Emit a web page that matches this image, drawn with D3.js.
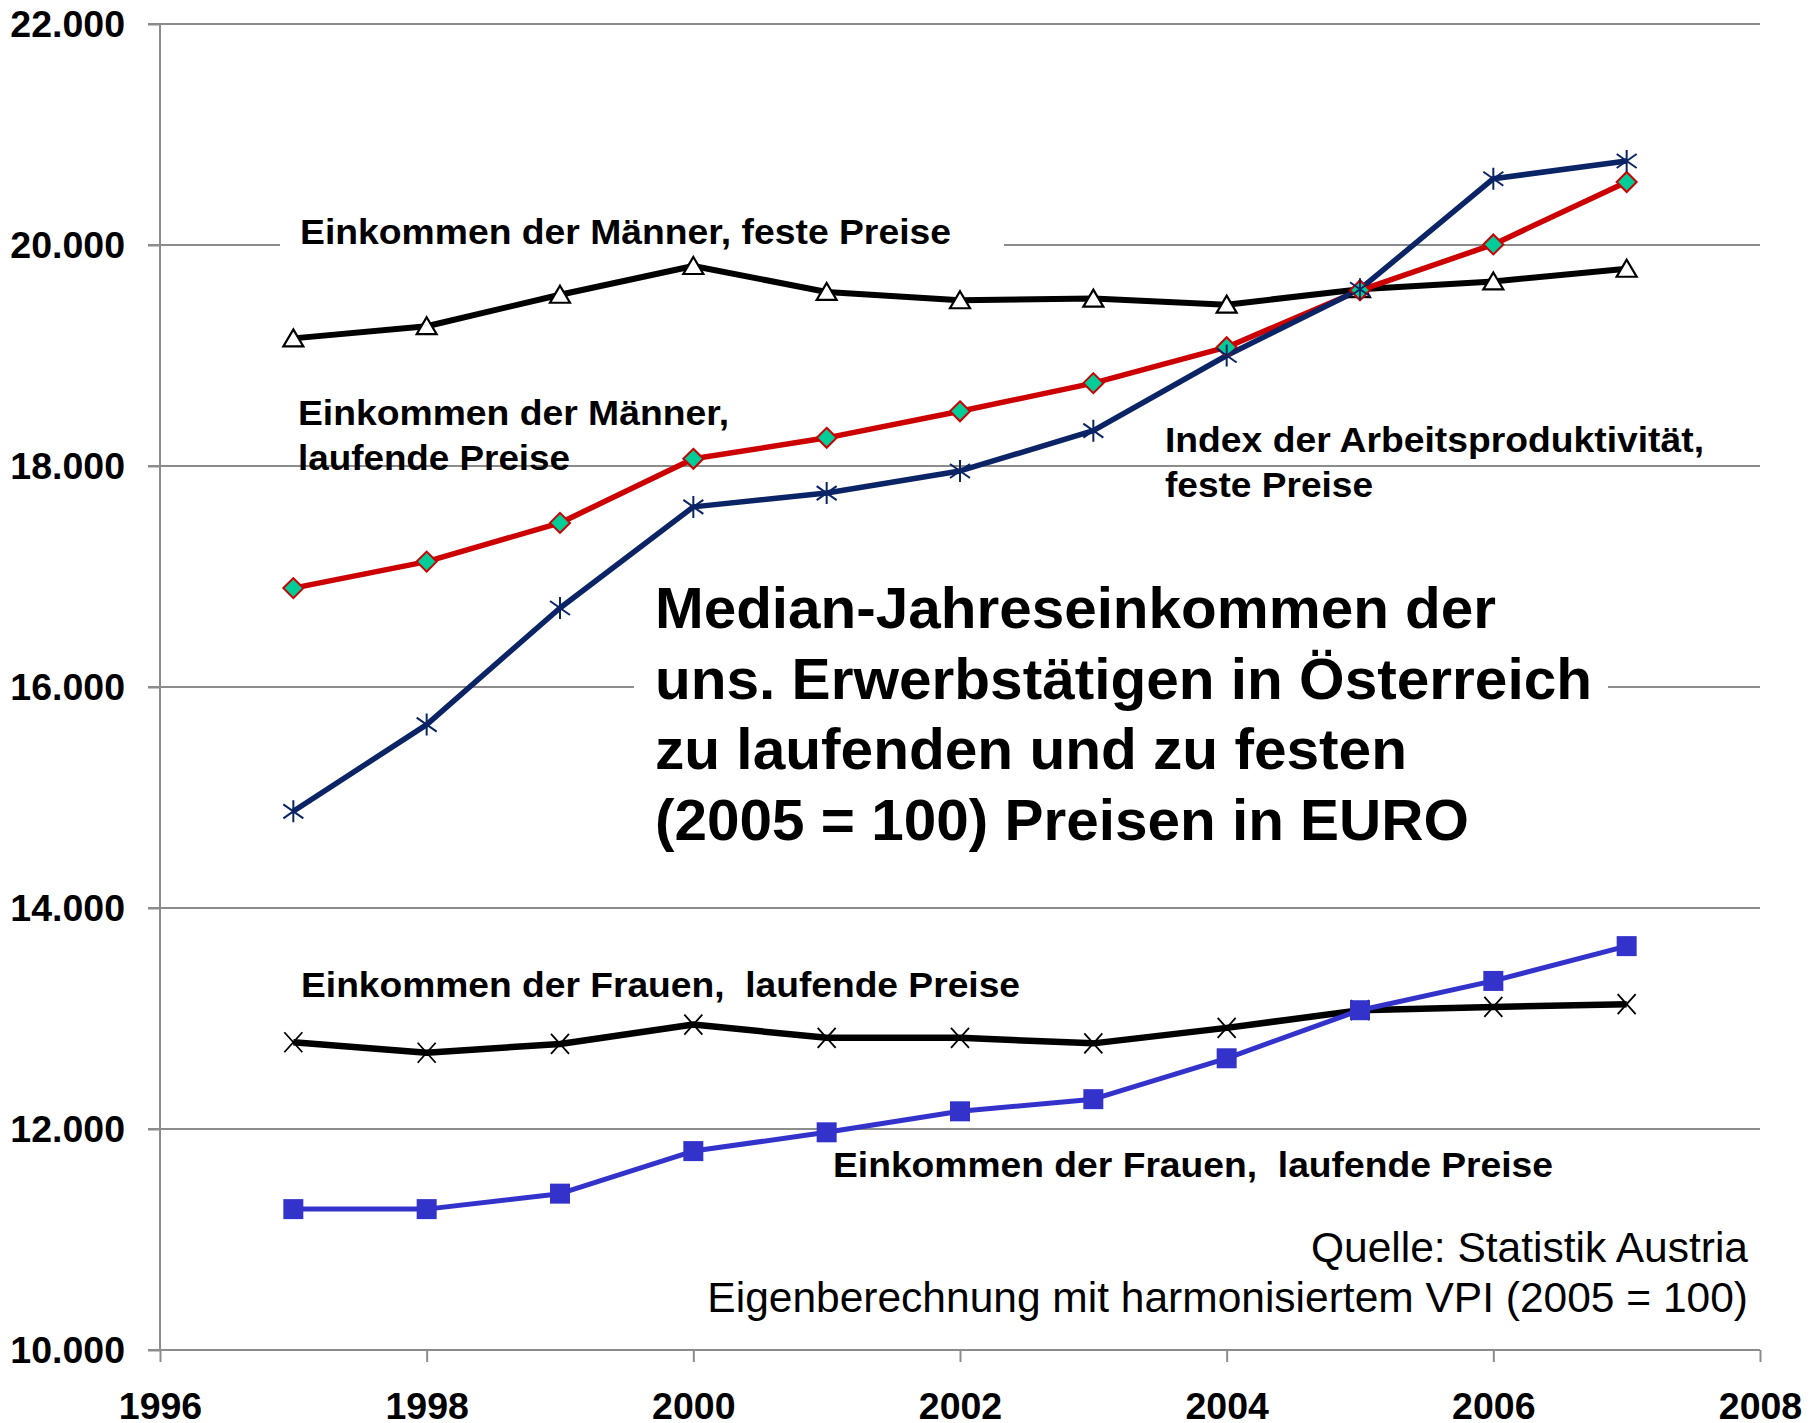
<!doctype html>
<html lang='de'>

<head>
    <meta charset='UTF-8'>
    <title>Median-Jahreseinkommen Österreich</title>
    <style>
        html,
        body {
            margin: 0;
            background: #fff;
        }

        svg {
            display: block;
            font-family: "Liberation Sans", Arial, sans-serif;
        }

        .axis text {
            font-size: 37.5px;
            font-weight: bold;
            fill: #000;
        }

        .axis line,
        .axis path {
            stroke: #8c8c8c;
            stroke-width: 2px;
        }

        .grid line {
            stroke: #8c8c8c;
            stroke-width: 2px;
        }
    </style>
</head>

<body>
    <script src='https://d3js.org/d3.v7.min.js'></script>
    <script>
        // values
        const years = [1997, 1998, 1999, 2000, 2001, 2002, 2003, 2004, 2005, 2006, 2007];
        const maennerFest = [19155, 19265, 19550, 19810, 19575, 19500, 19515, 19460, 19600, 19670, 19785];
        const maennerLaufend = [16895, 17135, 17485, 18065, 18255, 18495, 18750, 19075, 19590, 20005, 20570];
        const produktivitaet = [14875, 15660, 16715, 17630, 17755, 17955, 18320, 19000, 19600, 20600, 20760];
        const frauenFest = [12785, 12690, 12770, 12945, 12825, 12825, 12775, 12915, 13075, 13105, 13130];
        const frauenLaufend = [11275, 11275, 11415, 11800, 11970, 12160, 12270, 12640, 13075, 13340, 13655];

        const xTicks = [1996, 1998, 2000, 2002, 2004, 2006, 2008];
        const yTicks = [10000, 12000, 14000, 16000, 18000, 20000, 22000];

        const titleLines = [
            'Median-Jahreseinkommen der',
            'uns. Erwerbstätigen in Österreich',
            'zu laufenden und zu festen',
            '(2005 = 100) Preisen in EURO'
        ];

        const sourceLines = [
            'Quelle: Statistik Austria',
            'Eigenberechnung mit harmonisiertem VPI (2005 = 100)'
        ];

        const config = {
            width: 1814,
            height: 1423,
            left: 160,
            right: 1760,
            top: 24,
            bottom: 1350,
            tickSize: 12,
            black: '#000000',
            red: '#cc0000',
            green: '#00cc99',
            navy: '#0a2466',
            blue: '#3333cc'
        };

        const series = [
            { values: maennerFest, color: config.black, width: 6, marker: 'triangle' },
            { values: frauenFest, color: config.black, width: 6.5, marker: 'cross' },
            { values: frauenLaufend, color: config.blue, width: 5, marker: 'square' },
            { values: maennerLaufend, color: config.red, width: 5.5, marker: 'diamond' },
            { values: produktivitaet, color: config.navy, width: 5.5, marker: 'star' }
        ];

        // annotation layout (pixels)
        const labels = [
            { text: 'Einkommen der Männer, feste Preise', x: 300, y: 244, w: 651, size: 35 },
            { text: 'Einkommen der Männer,', x: 298, y: 425, w: 431, size: 35 },
            { text: 'laufende Preise', x: 298, y: 470, w: 272, size: 35 },
            { text: 'Index der Arbeitsproduktivität,', x: 1165, y: 452, w: 539, size: 35 },
            { text: 'feste Preise', x: 1165, y: 497, w: 208, size: 35 },
            { text: 'Einkommen der Frauen,  laufende Preise', x: 301, y: 997, w: 719, size: 35 },
            { text: 'Einkommen der Frauen,  laufende Preise', x: 833, y: 1177, w: 720, size: 35 }
        ];

        const svg = d3.select('body')
            .append('svg')
            .attr('width', config.width)
            .attr('height', config.height);

        const x = d3.scaleLinear()
            .domain([1996, 2008])
            .range([config.left, config.right]);

        const y = d3.scaleLinear()
            .domain([10000, 22000])
            .range([config.bottom, config.top]);

        const de = d3.formatLocale({ decimal: ',', thousands: '.', grouping: [3], currency: ['', ' €'] });

        // gridlines
        svg.append('g')
            .classed('grid', true)
            .selectAll('line')
            .data(yTicks)
            .join('line')
            .attr('x1', config.left - config.tickSize)
            .attr('x2', config.right)
            .attr('y1', (d) => y(d))
            .attr('y2', (d) => y(d));

        // y axis
        const yAxis = svg.append('g')
            .classed('axis', true)
            .attr('transform', `translate(${config.left},0)`)
            .call(d3.axisLeft(y)
                .tickValues(yTicks)
                .tickSize(config.tickSize)
                .tickPadding(23)
                .tickFormat(de.format(',d')));

        // x axis
        const xAxis = svg.append('g')
            .classed('axis', true)
            .attr('transform', `translate(0,${config.bottom})`)
            .call(d3.axisBottom(x)
                .tickValues(xTicks)
                .tickSize(config.tickSize)
                .tickPadding(30)
                .tickFormat(d3.format('d')));

        xAxis.select('.domain').attr('d', `M${config.left},0H${config.right}`);
        yAxis.select('.domain').attr('d', `M0,${config.top}V${config.bottom}`);

        // white boxes behind label and title, cutting the gridlines
        svg.append('rect')
            .attr('x', 280).attr('y', 212)
            .attr('width', 724).attr('height', 44)
            .attr('fill', '#fff');

        svg.append('rect')
            .attr('x', 634).attr('y', 575)
            .attr('width', 974).attr('height', 285)
            .attr('fill', '#fff');

        // lines
        const line = d3.line()
            .x((d, i) => x(years[i]))
            .y((d) => y(d));

        svg.append('g')
            .selectAll('path')
            .data(series)
            .join('path')
            .attr('d', (d) => line(d.values))
            .attr('fill', 'none')
            .attr('stroke', (d) => d.color)
            .attr('stroke-width', (d) => d.width)
            .attr('stroke-linejoin', 'round');

        // markers
        const markerPaths = {
            triangle: 'M0,-9L10,8H-10Z',
            diamond: 'M0,-10L10,0L0,10L-10,0Z',
            square: 'M-10,-10H10V10H-10Z',
            cross: 'M-9,-10L9,10M-9,10L9,-10',
            star: 'M0,-11V11M-10,-7L10,7M-10,7L10,-7'
        };

        const markerStyle = {
            triangle: { fill: '#fff', stroke: config.black, sw: 2.2 },
            diamond: { fill: config.green, stroke: config.red, sw: 2 },
            square: { fill: config.blue, stroke: 'none', sw: 0 },
            cross: { fill: 'none', stroke: config.black, sw: 1.8 },
            star: { fill: 'none', stroke: config.navy, sw: 2 }
        };

        series.forEach((s) => {
            const st = markerStyle[s.marker];
            svg.append('g')
                .selectAll('path')
                .data(s.values)
                .join('path')
                .attr('transform', (d, i) => `translate(${x(years[i])},${y(d)})`)
                .attr('d', markerPaths[s.marker])
                .attr('fill', st.fill)
                .attr('stroke', st.stroke)
                .attr('stroke-width', st.sw);
        });

        // series labels
        svg.append('g')
            .selectAll('text')
            .data(labels)
            .join('text')
            .attr('x', (d) => d.x)
            .attr('y', (d) => d.y)
            .attr('textLength', (d) => d.w)
            .attr('lengthAdjust', 'spacingAndGlyphs')
            .style('font-size', (d) => d.size + 'px')
            .style('font-weight', 'bold')
            .style('white-space', 'pre')
            .text((d) => d.text);

        // title
        svg.append('g')
            .selectAll('text')
            .data(titleLines)
            .join('text')
            .attr('x', 655)
            .attr('y', (d, i) => 628 + i * 70.5)
            .attr('textLength', (d, i) => [841, 937, 752, 814][i])
            .attr('lengthAdjust', 'spacingAndGlyphs')
            .style('font-size', '57px')
            .style('font-weight', 'bold')
            .text((d) => d);

        // source
        svg.append('g')
            .selectAll('text')
            .data(sourceLines)
            .join('text')
            .attr('x', 1748)
            .attr('y', (d, i) => 1262 + i * 50)
            .attr('text-anchor', 'end')
            .style('font-size', '42.5px')
            .text((d) => d);
    </script>
</body>
</html>
